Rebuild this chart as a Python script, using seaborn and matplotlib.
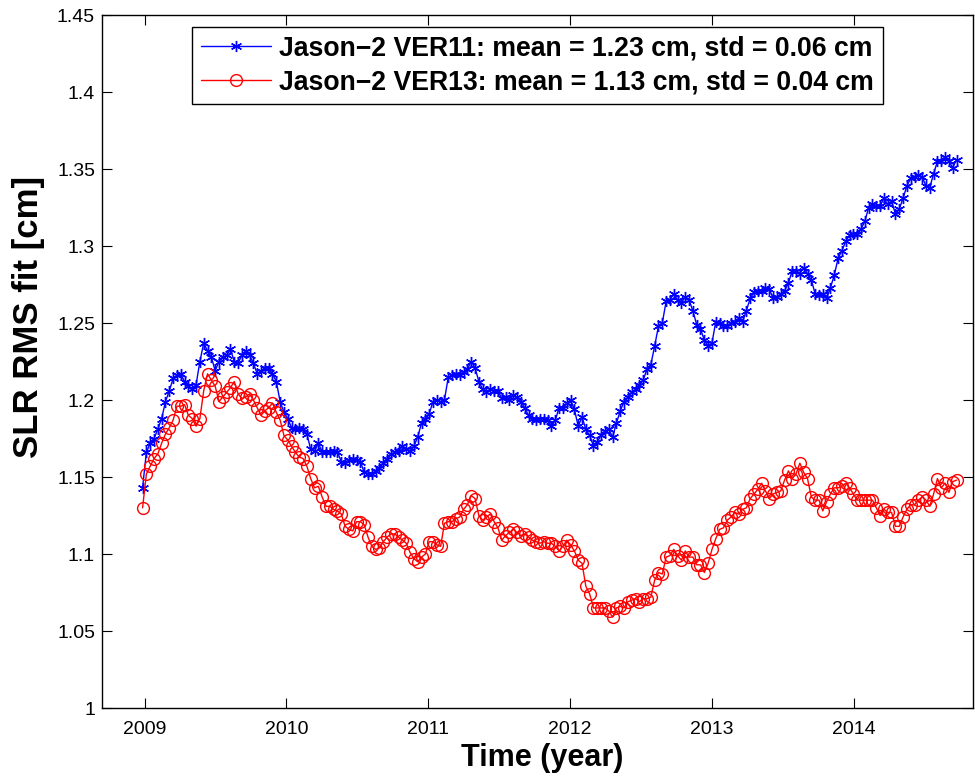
import numpy as np
import pandas as pd
import matplotlib
matplotlib.use("Agg")
import matplotlib.pyplot as plt
import matplotlib.ticker as mticker
import seaborn as sns

# SLR RMS fit per ~10-day cycle [cm]
ver11 = [
    1.143, 1.166, 1.172, 1.175, 1.181, 1.188, 1.199, 1.206, 1.214, 1.216,
    1.217, 1.212, 1.209, 1.207, 1.210, 1.225, 1.237, 1.232, 1.228, 1.219,
    1.225, 1.228, 1.229, 1.233, 1.225, 1.224, 1.229, 1.232, 1.229, 1.224,
    1.217, 1.219, 1.221, 1.221, 1.217, 1.212, 1.199, 1.192, 1.188,
    1.182, 1.181, 1.182, 1.181, 1.178, 1.168, 1.167, 1.172, 1.166, 1.166,
    1.166, 1.167, 1.166, 1.160, 1.159, 1.161, 1.162, 1.161, 1.160, 1.153,
    1.152, 1.152, 1.154, 1.156, 1.159, 1.162, 1.165, 1.166, 1.167, 1.170,
    1.168, 1.167, 1.170,
    1.176, 1.185, 1.188, 1.191, 1.199, 1.200, 1.199, 1.200, 1.215, 1.216,
    1.217, 1.216, 1.218, 1.220, 1.225, 1.221, 1.212, 1.207, 1.205, 1.207,
    1.206, 1.206, 1.201, 1.202, 1.200, 1.203, 1.202, 1.199, 1.195, 1.190,
    1.188, 1.187, 1.188, 1.188, 1.187, 1.183, 1.187, 1.195,
    1.195, 1.198, 1.200, 1.194, 1.183, 1.189, 1.181, 1.177, 1.170, 1.173,
    1.177, 1.180, 1.181, 1.176, 1.185, 1.193, 1.199, 1.202, 1.205, 1.207,
    1.210, 1.213, 1.220, 1.223, 1.235, 1.248, 1.250, 1.264, 1.265, 1.269,
    1.265, 1.263, 1.267, 1.265, 1.258, 1.249, 1.246, 1.239, 1.235,
    1.237, 1.251, 1.250, 1.248, 1.248, 1.250, 1.251, 1.253, 1.251, 1.258,
    1.266, 1.270, 1.271, 1.271, 1.273, 1.272, 1.266, 1.267, 1.269, 1.271,
    1.276, 1.284, 1.284, 1.282, 1.286, 1.282, 1.278, 1.269, 1.268, 1.269,
    1.266, 1.273, 1.281, 1.292, 1.297, 1.303, 1.307,
    1.308, 1.308, 1.311, 1.316, 1.325, 1.327, 1.326, 1.326, 1.331, 1.327,
    1.329, 1.321, 1.324, 1.331, 1.339, 1.344, 1.345, 1.346, 1.345, 1.339,
    1.338, 1.347, 1.355, 1.355, 1.358, 1.355, 1.351, 1.356,
]

ver13 = [
    1.130, 1.152, 1.157, 1.162, 1.165, 1.172, 1.178, 1.182, 1.187, 1.196,
    1.196, 1.197, 1.190, 1.188, 1.183, 1.188, 1.206, 1.217, 1.213, 1.209,
    1.199, 1.202, 1.205, 1.208, 1.212, 1.204, 1.201, 1.202, 1.204, 1.200,
    1.195, 1.190, 1.193, 1.195, 1.198, 1.192, 1.187, 1.177, 1.174, 1.170,
    1.166, 1.163, 1.162, 1.157, 1.149, 1.143, 1.144, 1.137, 1.131, 1.131,
    1.129, 1.128, 1.126, 1.118, 1.116, 1.115, 1.121, 1.121, 1.119, 1.111,
    1.105, 1.103, 1.104, 1.108, 1.111, 1.113, 1.113, 1.111, 1.109, 1.107,
    1.101, 1.097,
    1.095, 1.098, 1.100, 1.108, 1.108, 1.106, 1.105, 1.120, 1.121, 1.121,
    1.123, 1.124, 1.129, 1.132, 1.138, 1.136, 1.125, 1.122, 1.124, 1.126,
    1.121, 1.117, 1.109, 1.112, 1.114, 1.116, 1.114, 1.112, 1.113, 1.111,
    1.109, 1.108, 1.107, 1.108, 1.107, 1.107, 1.105, 1.102,
    1.105, 1.109, 1.106, 1.102, 1.096, 1.094, 1.079, 1.074, 1.065, 1.065,
    1.065, 1.065, 1.063, 1.059, 1.065, 1.066, 1.065, 1.069, 1.070, 1.071,
    1.069, 1.071, 1.071, 1.072, 1.083, 1.088, 1.087, 1.098, 1.099, 1.103,
    1.099, 1.096, 1.102, 1.098, 1.098, 1.093, 1.093, 1.088, 1.094,
    1.103, 1.110, 1.116, 1.117, 1.122, 1.124, 1.127, 1.126, 1.129, 1.130,
    1.136, 1.139, 1.142, 1.146, 1.141, 1.136, 1.139, 1.140, 1.141, 1.148,
    1.154, 1.149, 1.152, 1.159, 1.153, 1.149, 1.137, 1.135, 1.135, 1.128,
    1.134, 1.139, 1.143, 1.143,
    1.144, 1.146, 1.143, 1.139, 1.135, 1.135, 1.135, 1.135, 1.135, 1.130,
    1.125, 1.129, 1.127, 1.127, 1.118, 1.118, 1.124, 1.129, 1.132, 1.132,
    1.135, 1.137, 1.135, 1.131, 1.139, 1.149, 1.143, 1.146, 1.140, 1.147,
    1.148,
]

label11 = "Jason\u22122 VER11: mean = 1.23 cm, std = 0.06 cm"
label13 = "Jason\u22122 VER13: mean = 1.13 cm, std = 0.04 cm"

# cycles are ~10 days apart, first one at the very end of 2008
start_year = 2008.986
step_days = 9.84
cycle = np.arange(len(ver11))
year = start_year + cycle * step_days / 365.25

df = pd.DataFrame({"year": year, "VER11": ver11, "VER13": ver13})

sns.set_style("ticks")
plt.rcParams["font.family"] = ["Liberation Sans", "DejaVu Sans"]
plt.rcParams["text.color"] = "black"
plt.rcParams["axes.labelcolor"] = "black"
plt.rcParams["xtick.color"] = "black"
plt.rcParams["ytick.color"] = "black"

fig = plt.figure(figsize=(9.75, 7.76), dpi=100)
ax = fig.add_axes([0.1046, 0.0876, 0.8933, 0.8930])

sns.lineplot(data=df, x="year", y="VER11", ax=ax, color="#0000ff", lw=1.0,
             marker=(6, 2, 0), markersize=8, mec="#0000ff", mew=1.0,
             estimator=None, sort=False, label=label11)
sns.lineplot(data=df, x="year", y="VER13", ax=ax, color="#ff0000", lw=1.0,
             marker="o", markersize=8.5, mfc="none", mec="#ff0000", mew=1.0,
             estimator=None, sort=False, label=label13)

ax.set_xlim(2008.7, 2014.84)
ax.set_ylim(1.0, 1.45)
ax.set_xticks([2009, 2010, 2011, 2012, 2013, 2014])
ax.set_yticks(np.arange(1.0, 1.451, 0.05))
ax.xaxis.set_major_formatter(mticker.FormatStrFormatter("%d"))
ax.yaxis.set_major_formatter(mticker.FormatStrFormatter("%g"))

ax.tick_params(direction="in", length=7, width=0.8, top=True, right=True,
               labelsize=14)
ax.tick_params(axis="x", pad=9)
ax.tick_params(axis="y", pad=5)
for s in ax.spines.values():
    s.set_color("black")
    s.set_linewidth(1.0)

ax.set_xlabel("Time (year)", fontsize=22, fontweight="bold")
ax.set_ylabel("SLR RMS fit [cm]", fontsize=25, fontweight="bold")
ax.xaxis.set_label_coords(0.505, -0.05)
ax.yaxis.set_label_coords(-0.066, 0.565)

leg = ax.legend(loc="upper center", prop={"weight": "bold", "size": 19.2},
                handlelength=2.65, handletextpad=0.3, borderpad=0.32,
                labelspacing=0.28, borderaxespad=0.45, fancybox=False,
                framealpha=1, edgecolor="black")
leg.get_frame().set_linewidth(1.0)

fig.savefig("out.png", dpi=100)
